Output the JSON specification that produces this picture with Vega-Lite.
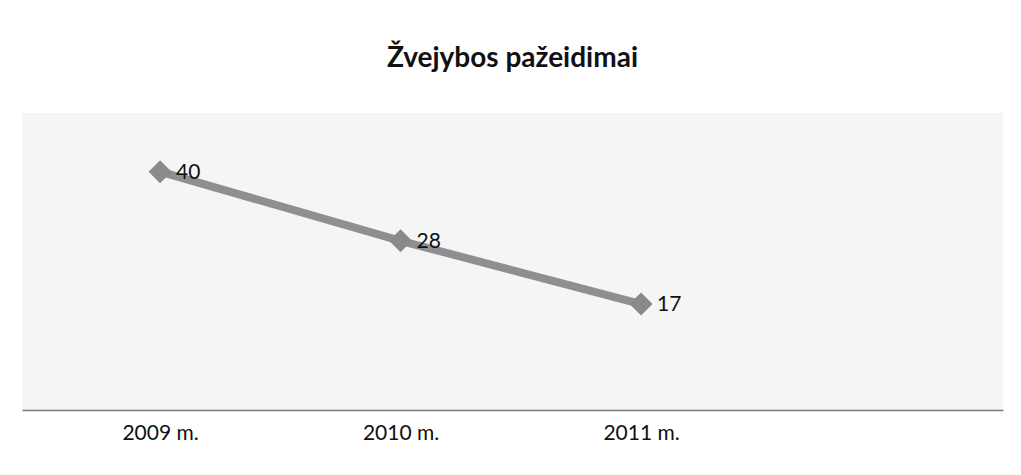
{
  "$schema": "https://vega.github.io/schema/vega-lite/v6.json",
  "autosize": "none",
  "width": 981,
  "height": 297,
  "padding": {"left": 22, "top": 113, "right": 18, "bottom": 65},
  "background": "white",
  "title": {
    "text": "Žvejybos pažeidimai",
    "anchor": "middle",
    "font": "Lato",
    "fontSize": 28,
    "fontWeight": "bold",
    "color": "#111",
    "offset": 40
  },
  "data": {
    "values": [
      {"year": 2009, "value": 40},
      {"year": 2010, "value": 28},
      {"year": 2011, "value": 17}
    ]
  },
  "encoding": {
    "x": {
      "field": "year",
      "type": "quantitative",
      "scale": {"domain": [2008.426, 2012.505], "nice": false, "zero": false},
      "axis": {
        "values": [2009, 2010, 2011],
        "labelExpr": "datum.value + ' m.'",
        "title": null,
        "ticks": false,
        "grid": false,
        "labelFont": "Lato",
        "labelFontSize": 21,
        "labelColor": "#111",
        "labelPadding": 12,
        "domainColor": "#777",
        "domainWidth": 1.5
      }
    },
    "y": {
      "field": "value",
      "type": "quantitative",
      "scale": {"domain": [-1.4, 50.2], "nice": false, "zero": false},
      "axis": null
    }
  },
  "layer": [
    {"mark": {"type": "line", "color": "#8f8f8f", "strokeWidth": 8}},
    {"mark": {"type": "point", "shape": "diamond", "size": 530, "filled": true, "color": "#8a8a8a", "opacity": 1}},
    {
      "mark": {"type": "text", "align": "left", "baseline": "middle", "dx": 16, "dy": 1, "font": "Lato", "fontSize": 21, "color": "#111"},
      "encoding": {"text": {"field": "value", "type": "quantitative"}}
    }
  ],
  "config": {
    "view": {"fill": "#f5f5f5", "stroke": null}
  }
}
